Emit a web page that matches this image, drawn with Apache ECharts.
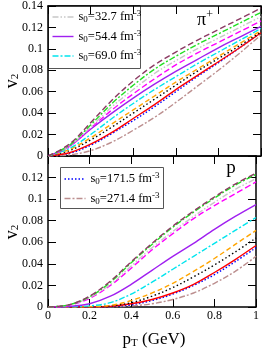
<!DOCTYPE html>
<html><head><meta charset="utf-8">
<script src="https://cdn.jsdelivr.net/npm/echarts@6/dist/echarts.min.js"></script>
<style>html,body{margin:0;padding:0;background:#fff}#c{width:262px;height:352px}</style>
</head><body><div id="c"></div>
<script>
// ---- data ----
const pT = [0, 0.1, 0.2, 0.3, 0.4, 0.5, 0.6, 0.7, 0.8, 0.9, 1.0];
const xTicks = [0, 0.2, 0.4, 0.6, 0.8, 1];
const yTicks = [0, 0.02, 0.04, 0.06, 0.08, 0.1, 0.12, 0.14];
const legendTop = ['s0=32.7 fm-3', 's0=54.4 fm-3', 's0=69.0 fm-3'];
const legendBottom = ['s0=171.5 fm-3', 's0=271.4 fm-3'];

// pion v2 (top panel)
const piMaroon  = [0, 0.011, 0.031, 0.052, 0.070, 0.085, 0.097, 0.108, 0.118, 0.128, 0.138];
const piGreen   = [0, 0.010, 0.029, 0.049, 0.066, 0.081, 0.093, 0.104, 0.114, 0.124, 0.134];
const piS327    = [0, 0.0095, 0.027, 0.046, 0.062, 0.077, 0.089, 0.100, 0.110, 0.120, 0.130];
const piMagenta = [0, 0.009, 0.026, 0.043, 0.058, 0.072, 0.085, 0.096, 0.106, 0.116, 0.126];
const piS544    = [0, 0.009, 0.025, 0.040, 0.054, 0.067, 0.079, 0.090, 0.101, 0.111, 0.121];
const piS690    = [0, 0.007, 0.020, 0.035, 0.049, 0.062, 0.074, 0.086, 0.097, 0.108, 0.119];
const piOrange  = [0, 0.006, 0.017, 0.030, 0.043, 0.056, 0.069, 0.081, 0.093, 0.105, 0.117];
const piBlack   = [0, 0.005, 0.015, 0.027, 0.040, 0.053, 0.066, 0.079, 0.091, 0.103, 0.116];
const piRed     = [0, 0.003, 0.011, 0.022, 0.035, 0.048, 0.062, 0.075, 0.088, 0.101, 0.115];
const piS1715   = [0, 0.0025, 0.010, 0.021, 0.033, 0.046, 0.060, 0.074, 0.087, 0.101, 0.115];
const piS2714   = [0, 0.001, 0.005, 0.013, 0.024, 0.036, 0.050, 0.065, 0.080, 0.096, 0.113];

// proton v2 (bottom panel)
const pMaroon  = [0, 0.002, 0.010, 0.024, 0.042, 0.059, 0.075, 0.089, 0.102, 0.114, 0.124];
const pGreen   = [0, 0.002, 0.0095, 0.023, 0.041, 0.058, 0.074, 0.088, 0.101, 0.113, 0.123];
const pS327    = [0, 0.0018, 0.009, 0.021, 0.038, 0.055, 0.070, 0.084, 0.097, 0.109, 0.119];
const pMagenta = [0, 0.0015, 0.008, 0.020, 0.036, 0.053, 0.068, 0.082, 0.094, 0.105, 0.116];
const pS544    = [0, 0.0005, 0.003, 0.010, 0.021, 0.034, 0.047, 0.059, 0.072, 0.084, 0.095];
const pS690    = [0, 0.0002, 0.001, 0.004, 0.012, 0.023, 0.035, 0.047, 0.059, 0.071, 0.083];
const pOrange  = [0, 0, 0.0003, 0.0015, 0.006, 0.013, 0.022, 0.033, 0.045, 0.058, 0.071];
const pBlack   = [0, 0, 0.0002, 0.001, 0.004, 0.010, 0.018, 0.028, 0.039, 0.051, 0.064];
const pRed     = [0, 0, 0.0001, 0.0006, 0.003, 0.007, 0.013, 0.021, 0.032, 0.044, 0.057];
const pS1715   = [0, 0, 0.0001, 0.0004, 0.002, 0.006, 0.012, 0.020, 0.030, 0.042, 0.055];
const pS2714   = [0, 0, 0, 0.0002, 0.001, 0.003, 0.007, 0.013, 0.022, 0.033, 0.047];

// ---- styles ----
const ST = {
  maroon:  {color: '#8b3a62', type: [6, 3]},
  green:   {color: '#22e022', type: [6, 2, 2, 2]},
  s327:    {color: '#c8c8c8', type: [6, 2, 1.5, 2, 1.5, 2]},
  magenta: {color: '#ff00ff', type: [6, 3]},
  s544:    {color: '#a020f0', type: 'solid'},
  s690:    {color: '#00e5ee', type: [6, 2, 2, 2]},
  orange:  {color: '#ffa500', type: [5, 3]},
  black:   {color: '#000000', type: [1.5, 2.5]},
  red:     {color: '#ff0000', type: 'solid'},
  s1715:   {color: '#0000ff', type: [1.5, 2]},
  s2714:   {color: '#bc8f8f', type: [6, 2, 2, 2]}
};
const topSet = [['s2714', piS2714], ['s1715', piS1715], ['red', piRed], ['black', piBlack], ['orange', piOrange], ['s690', piS690], ['s544', piS544], ['magenta', piMagenta], ['s327', piS327], ['green', piGreen], ['maroon', piMaroon]];
const botSet = [['s2714', pS2714], ['s1715', pS1715], ['red', pRed], ['black', pBlack], ['orange', pOrange], ['s690', pS690], ['s544', pS544], ['magenta', pMagenta], ['s327', pS327], ['green', pGreen], ['maroon', pMaroon]];

const FONT = 'Liberation Serif';
const series = [];
function addSeries(set, idx) {
  set.forEach(([k, vals]) => {
    series.push({
      type: 'line', xAxisIndex: idx * 2, yAxisIndex: idx * 2, smooth: 0.35,
      showSymbol: false, symbol: 'none', silent: true, animation: false,
      data: pT.map((x, i) => [x, vals[i]]),
      lineStyle: {color: ST[k].color, type: ST[k].type, width: 1.4}
    });
  });
}
addSeries(topSet, 0);
addSeries(botSet, 1);

function xAx(grid, pos, labels) {
  return {type: 'value', gridIndex: grid, position: pos, min: xTicks[0], max: xTicks[xTicks.length - 1], interval: 0.2,
    axisLine: {show: true, onZero: false, lineStyle: {color: '#000', width: 1.5}},
    axisTick: {show: true, inside: true, length: 8, lineStyle: {color: '#000', width: 1}},
    splitLine: {show: false},
    axisLabel: {show: labels, margin: 3, fontFamily: FONT, fontSize: 12, color: '#000',
      formatter: v => String(+v.toFixed(2))}};
}
function yAx(grid, pos, labels, showMax) {
  return {type: 'value', gridIndex: grid, position: pos, min: yTicks[0], max: yTicks[yTicks.length - 1], interval: 0.02,
    axisLine: {show: true, onZero: false, lineStyle: {color: '#000', width: 1.5}},
    axisTick: {show: true, inside: true, length: 8, lineStyle: {color: '#000', width: 1}},
    splitLine: {show: false},
    axisLabel: {show: labels, margin: 5, showMaxLabel: showMax, fontFamily: FONT, fontSize: 12, color: '#000',
      formatter: v => String(+v.toFixed(2))}};
}

const rich = {
  n: {fontFamily: FONT, fontSize: 12.5, color: '#000'},
  sub: {fontFamily: FONT, fontSize: 9, color: '#000', verticalAlign: 'bottom', padding: [5, 0, 0, 0]},
  sup: {fontFamily: FONT, fontSize: 9, color: '#000', verticalAlign: 'top', padding: [0, 0, 6, 0]}
};
function legText(s) {
  const m = s.match(/^s0=(.*) fm-3$/);
  return '{n|s}{sub|0}{n|=' + m[1] + ' fm}{sup|-3}';
}
function legendGroup(x, y, w, h, items, keys) {
  const children = [{type: 'rect', shape: {x: x, y: y, width: w, height: h},
    style: {fill: '#fff', stroke: '#555', lineWidth: 1}}];
  items.forEach((t, i) => {
    const cy = y + 11.5 + i * 19.5;
    children.push({type: 'line', shape: {x1: x + 4, y1: cy, x2: x + 25, y2: cy},
      style: {stroke: ST[keys[i]].color, lineWidth: 1.4, lineDash: ST[keys[i]].type === 'solid' ? null : ST[keys[i]].type}});
    children.push({type: 'text', x: x + 30, y: cy, style: {text: legText(t), rich: rich, verticalAlign: 'middle', align: 'left'}});
  });
  return children;
}

const graphic = [].concat(
  legendGroup(48.5, 5.5, 92, 63, legendTop, ['s327', 's544', 's690']),
  legendGroup(60.5, 167.5, 103, 41, legendBottom, ['s1715', 's2714']),
  [
    {type: 'text', x: 205, y: 20, style: {text: '{a|π}{b|+}', align: 'center', verticalAlign: 'middle',
      rich: {a: {fontFamily: FONT, fontSize: 18, color: '#000'}, b: {fontFamily: FONT, fontSize: 12, color: '#000', verticalAlign: 'top', padding: [0, 0, 10, 0]}}}},
    {type: 'text', x: 231, y: 168, style: {text: 'p', align: 'center', verticalAlign: 'middle', fontFamily: FONT, fontSize: 19, fill: '#000'}},
    {type: 'text', x: 154, y: 340, style: {text: '{a|p}{b|T}{a| (GeV)}', align: 'center', verticalAlign: 'middle',
      rich: {a: {fontFamily: FONT, fontSize: 17, color: '#000'}, b: {fontFamily: FONT, fontSize: 11, color: '#000', verticalAlign: 'bottom', padding: [6, 0, 0, 0]}}}},
    {type: 'text', x: 12, y: 81, rotation: Math.PI / 2, style: {text: '{a|v}{b|2}', align: 'center', verticalAlign: 'middle',
      rich: {a: {fontFamily: FONT, fontSize: 18, color: '#000'}, b: {fontFamily: FONT, fontSize: 11, color: '#000', verticalAlign: 'bottom', padding: [6, 0, 0, 0]}}}},
    {type: 'text', x: 12, y: 232, rotation: Math.PI / 2, style: {text: '{a|v}{b|2}', align: 'center', verticalAlign: 'middle',
      rich: {a: {fontFamily: FONT, fontSize: 18, color: '#000'}, b: {fontFamily: FONT, fontSize: 11, color: '#000', verticalAlign: 'bottom', padding: [6, 0, 0, 0]}}}}
  ]
);

const chart = echarts.init(document.getElementById('c'), null, {renderer: 'canvas'});
chart.setOption({
  animation: false,
  backgroundColor: '#fff',
  grid: [
    {left: 48, top: 5, width: 213, height: 151},
    {left: 48, top: 156, width: 213, height: 151}
  ],
  xAxis: [xAx(0, 'bottom', false), xAx(0, 'top', false), xAx(1, 'bottom', true), xAx(1, 'top', false)],
  yAxis: [yAx(0, 'left', true, true), yAx(0, 'right', false, true), yAx(1, 'left', true, false), yAx(1, 'right', false, false)],
  series: series,
  graphic: graphic
});
</script></body></html>
